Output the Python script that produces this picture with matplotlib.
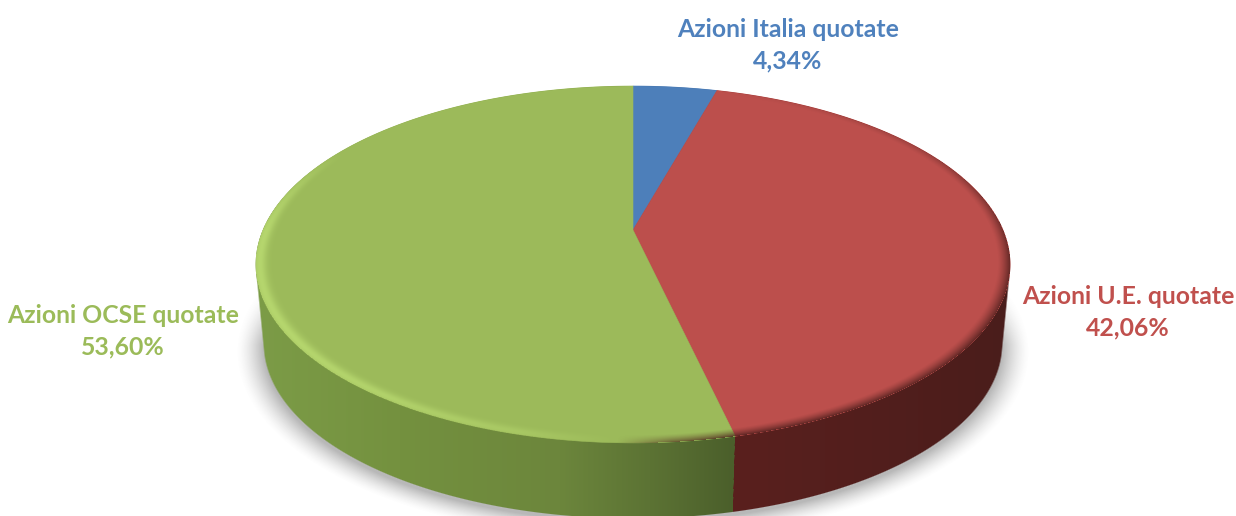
"""3D-style pie of listed equity allocation."""

from __future__ import annotations

import matplotlib

matplotlib.use("Agg")
import matplotlib.pyplot as plt
import numpy as np
from matplotlib.colors import to_rgb
from matplotlib.patches import Polygon

categories = ["Azioni Italia quotate", "Azioni U.E. quotate", "Azioni OCSE quotate"]
shares = [4.34, 42.06, 53.60]

top_colors = ["#4d7fba", "#bc4f4c", "#9cba5a"]
label_colors = ["#4f81bd", "#c0504d", "#9bbb59"]
label_xy = [(788, 45), (1128, 312), (123, 331)]

# horizontal colour ramps for the side wall, per series
wall_x = [256, 400, 560, 650, 733, 1010]
wall_ramps = [
    ["#3a5f8c"] * 6,
    ["#561f1d", "#561f1d", "#561f1d", "#561f1d", "#5a201e", "#4a1d1b"],
    ["#7c9c47", "#74913f", "#6c863c", "#5c7334", "#4b5f2b", "#4b5f2b"],
]

# perspective of the disc, in pixels
CX, CY = 633, 230
K = 0.193
A = 171.8
B = 370.0
WALL_SCALE = 0.979
WALL_DROP = 80.0


def project(theta, scale=1.0, drop=0.0):
    """Map clockwise-from-top angles on the unit disc to pixel coordinates."""
    x, y = np.sin(theta), np.cos(theta)
    w = 1 + K * y
    return CX + scale * B * x / w, CY + drop - scale * A * y / w


def unproject(px, py, scale=1.0, drop=0.0):
    """Pixel coordinates back to disc radius and clockwise angle in degrees."""
    u = (px - CX) / (scale * B)
    v = (CY + drop - py) / (scale * A)
    y = v / (1 - K * v)
    x = u * (1 + K * y)
    return np.hypot(x, y), np.degrees(np.arctan2(x, y)) % 360


edges = np.concatenate([[0], np.cumsum(shares) / np.sum(shares) * 2 * np.pi])
edge_deg = np.degrees(edges)

fig = plt.figure(figsize=(12.36, 5.16), dpi=100)
ax = fig.add_axes([0, 0, 1, 1])
ax.axis("off")

xx, yy = np.meshgrid(np.arange(1236) + 0.5, np.arange(516) + 0.5)

# soft shadow under the disc
r_shadow, _ = unproject(xx, yy, scale=1.0, drop=84)
shadow = np.zeros((516, 1236, 4))
shadow[..., :3] = 0.45
shadow[..., 3] = 0.5 * np.clip((1.05 - r_shadow) / 0.07, 0, 1) ** 1.5
shadow[..., 3] *= np.clip((yy - 275) / 70, 0, 1)
ax.imshow(shadow, extent=(0, 1236, 516, 0), zorder=1, interpolation="bilinear")

# side walls: sweep the disc downwards and keep the coverage per series
coverage = [np.zeros_like(xx) for _ in shares]
for s in np.linspace(0, 1, 90):
    r, ang = unproject(xx, yy, 1 + (WALL_SCALE - 1) * s, WALL_DROP * s)
    soft = np.clip((1 - r) * 250 + 0.5, 0, 1)
    for i in range(len(shares)):
        inside = (ang >= edge_deg[i]) & (ang < edge_deg[i + 1])
        coverage[i] = np.maximum(coverage[i], soft * inside)

columns = xx[0]
for i in range(len(shares)):
    ramp_rgb = np.array([to_rgb(c) for c in wall_ramps[i]])
    wall = np.zeros((516, 1236, 4))
    for c in range(3):
        wall[..., c] = np.interp(columns, wall_x, ramp_rgb[:, c])
    wall[..., 3] = coverage[i]
    ax.imshow(wall, extent=(0, 1236, 516, 0), zorder=2, interpolation="bilinear")

# top faces
for i in range(len(shares)):
    t = np.linspace(edges[i], edges[i + 1], 300)
    top_x, top_y = project(t)
    pts = np.r_[[[CX, CY]], np.c_[top_x, top_y]]
    ax.add_patch(Polygon(pts, closed=True, fc=top_colors[i], ec=top_colors[i], lw=0.4, zorder=3))

# bevel along the rim: light on the green side, dark on the red one
radius, angle = unproject(xx, yy)
rim = np.zeros((516, 1236, 4))
light = np.interp(angle, [182, 195, 215, 235, 270, 285, 300], [0, 0.35, 0.6, 0.7, 0.7, 0.4, 0])
dark = np.interp(
    angle,
    [edge_deg[1], 60, 100, edge_deg[2], edge_deg[2] + 8, 182],
    [0, 0.3, 0.75, 0.8, 0.55, 0],
)
band = np.exp(-(((radius - 0.99) / 0.017) ** 2))
fade = np.clip((radius - 0.968) / 0.032, 0, 1) ** 1.4
light_a = light * band * (angle >= edge_deg[2])
dark_a = dark * fade
rim[..., :3] = np.where(light_a[..., None] > dark_a[..., None], to_rgb("#c0e276"), to_rgb("#4a1d1b"))
rim[..., 3] = np.maximum(light_a, dark_a) * (radius <= 1.0)
ax.imshow(rim, extent=(0, 1236, 516, 0), zorder=4, interpolation="bilinear")

for name, value, color, (lx, ly) in zip(categories, shares, label_colors, label_xy):
    pct = f"{value:.2f}%".replace(".", ",")
    ax.text(
        lx, ly, f"{name}\n{pct}", color=color, ha="center", va="center", fontsize=17.8,
        family="Lato", fontweight="bold", linespacing=1.45, zorder=5,
    )

ax.set_xlim(0, 1236)
ax.set_ylim(516, 0)
ax.set_aspect("auto")
fig.savefig("out.png", dpi=100, facecolor="white")
plt.close(fig)
